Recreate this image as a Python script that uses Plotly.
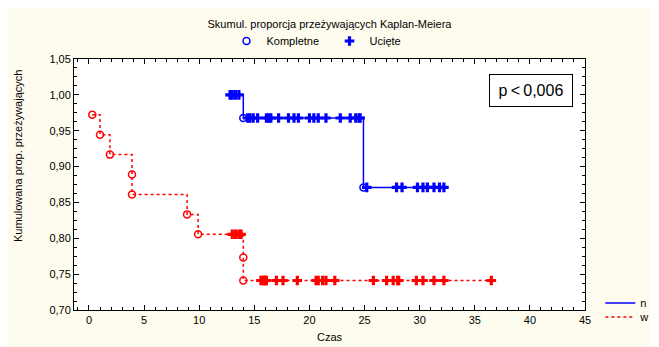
import plotly.graph_objects as go

# ---- data ----
w_event_times = [0.3, 1.0, 1.9, 3.9, 3.9, 8.9, 9.9, 14.0, 14.0]
w_censored_times = [13.0, 13.3, 13.6, 13.8, 15.6, 15.8, 15.9, 16.0, 16.1, 17.0, 17.6,
                    18.9, 20.6, 20.8, 21.2, 21.5, 22.3, 25.8, 27.0, 27.6, 28.0, 28.1,
                    29.7, 30.3, 31.3, 32.2, 36.5]
n_event_times = [14.0, 24.9]
n_censored_times = [12.8, 13.0, 13.3, 13.6, 14.4, 14.6, 14.9, 15.3, 16.1, 16.3, 16.5,
                    17.2, 18.1, 18.6, 19.0, 20.0, 20.4, 20.8, 21.5, 22.8, 23.7, 24.2,
                    24.5, 24.6, 25.2, 27.9, 28.4, 29.8, 30.3, 30.7, 31.3, 31.8, 32.2]
x_ticks = [0, 5, 10, 15, 20, 25, 30, 35, 40, 45]
y_ticks = [0.70, 0.75, 0.80, 0.85, 0.90, 0.95, 1.00, 1.05]
p_text = "p\u2009<\u20090,006"

FONT = "Liberation Sans, Arial, sans-serif"

# page body has an 8px default margin; figure is sized to fill the rest of the window
W, H = 651, 339
ML, MT, MR, MB = 66, 51, 74, 37
PW, PH = W - ML - MR, H - MT - MB  # 511 x 251


def kaplan_meier(events, censored):
    obs = [(t, 0) for t in events] + [(t, 1) for t in censored]
    obs.sort()
    n = len(obs)
    s = 1.0
    xs, ys, ev_x, ev_y, ce_x, ce_y = [], [], [], [], [], []
    for t, c in obs:
        if c == 0:
            s *= (1 - 1 / n)
            ev_x.append(t); ev_y.append(s)
        else:
            ce_x.append(t); ce_y.append(s)
        xs.append(t); ys.append(s)
        n -= 1
    return xs, ys, ev_x, ev_y, ce_x, ce_y


fig = go.Figure()

groups = [
    ("n", n_event_times, n_censored_times, "#0000FF", "solid", "legend2"),
    ("w", w_event_times, w_censored_times, "#FF0000", "dot", "legend3"),
]
for name, ev, ce, color, dash, leg in groups:
    xs, ys, ex, ey, cx, cy = kaplan_meier(ev, ce)
    fig.add_trace(go.Scatter(x=xs, y=ys, mode="lines",
                             line=dict(color=color, width=1.5, dash=dash, shape="hv"),
                             name=name, legend=leg))
    fig.add_trace(go.Scatter(x=ex, y=ey, mode="markers", showlegend=False,
                             marker=dict(symbol="circle-open", size=7, color=color,
                                         line=dict(width=1.5, color=color))))
    fig.add_trace(go.Scatter(x=cx, y=cy, mode="markers", showlegend=False,
                             marker=dict(symbol="cross", size=8, color=color, line=dict(width=0))))

# top legend (symbol key)
fig.add_trace(go.Scatter(x=[None], y=[None], mode="markers", name="Kompletne", legend="legend",
                         marker=dict(symbol="circle-open", size=7, color="#0000FF",
                                     line=dict(width=1.5, color="#0000FF"))))
fig.add_trace(go.Scatter(x=[None], y=[None], mode="markers", name="Ucięte", legend="legend",
                         marker=dict(symbol="cross", size=8, color="#0000FF", line=dict(width=0))))

axis_common = dict(showline=True, linecolor="black", linewidth=1, mirror="ticks", ticks="inside",
                   ticklen=5, tickcolor="black", showgrid=False, zeroline=False,
                   tickfont=dict(family=FONT, size=11, color="black"))

small_legend = dict(x=1.03, xanchor="left", yanchor="middle", bgcolor="rgba(0,0,0,0)",
                    font=dict(family=FONT, size=11), itemwidth=30)

fig.update_layout(
    width=W, height=H,
    margin=dict(l=ML, r=MR, t=MT, b=MB, autoexpand=False),
    paper_bgcolor="#FEFCEE", plot_bgcolor="white",
    separators=",.",
    font=dict(family=FONT, size=11, color="black"),
    title=dict(text="Skumul. proporcja przeżywających Kaplan-Meiera", x=0.5, xanchor="center",
               xref="paper", y=1 - 16 / H, yanchor="middle",
               font=dict(family=FONT, size=11, color="black")),
    xaxis=dict(range=[-1.36, 45], tickmode="array", tickvals=x_ticks,
               minor=dict(dtick=1, tick0=0, ticks="inside", ticklen=3, tickcolor="black"),
               **axis_common),
    yaxis=dict(range=[0.70, 1.05], tickmode="array", tickvals=y_ticks, tickformat=".2f",
               minor=dict(dtick=0.0125, tick0=0.70, ticks="inside", ticklen=3, tickcolor="black"),
               **axis_common),
    legend=dict(orientation="h", x=0.50, xanchor="center", y=(51 - 33) / PH + 1, yanchor="middle",
                bgcolor="rgba(0,0,0,0)", font=dict(family=FONT, size=11), itemwidth=30,
                entrywidth=58, entrywidthmode="pixels"),
    legend2=dict(y=(310 - 303) / PH, **small_legend),
    legend3=dict(y=(310 - 317) / PH, **small_legend),
    showlegend=True,
)

fig.add_annotation(text=p_text, xref="paper", yref="paper", x=(531 - 74) / PW, y=(310 - 90) / PH,
                   xanchor="center", yanchor="middle",
                   showarrow=False, font=dict(family=FONT, size=16, color="black"),
                   bordercolor="black", borderwidth=1, borderpad=6, bgcolor="white",
                   width=70, height=19)
fig.add_annotation(text="Kumulowana prop. przeżywających", xref="paper", yref="paper",
                   x=(18 - 74) / PW, y=(310 - 156) / PH, textangle=-90, showarrow=False,
                   xanchor="center", yanchor="middle", font=dict(family=FONT, size=11, color="black"))
fig.add_annotation(text="Czas", xref="paper", yref="paper", x=0.5, y=(310 - 337) / PH,
                   showarrow=False, xanchor="center", yanchor="middle",
                   font=dict(family=FONT, size=11, color="black"))

fig.write_html("out.html")
